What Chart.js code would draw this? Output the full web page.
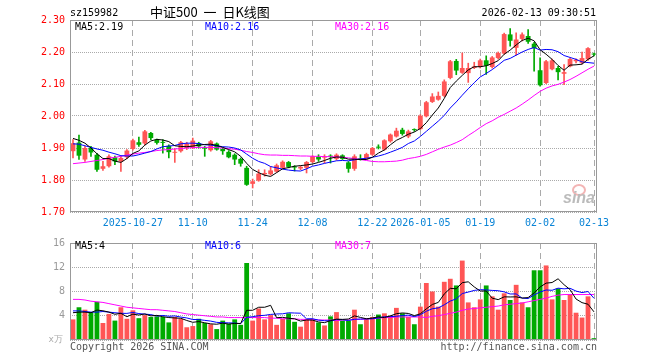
<!DOCTYPE html>
<html>
<head>
<meta charset="utf-8">
<script src="https://cdn.jsdelivr.net/npm/chart.js@4.4.1/dist/chart.umd.min.js"></script>
<style>
  body { margin: 0; background: #fff; }
  #wrap { position: relative; width: 660px; height: 360px; overflow: hidden; background: #fff; }
  canvas { position: absolute; left: 0; }
  .t { position: absolute; font: 10px 'DejaVu Sans Mono', monospace; line-height: 12px; white-space: nowrap; }
</style>
</head>
<body>
<div id="wrap">
  <canvas id="kline" width="660" height="232" style="top:0"></canvas>
  <canvas id="vol" width="660" height="128" style="top:232px"></canvas>

  <div class="t" style="left:70px;top:7px;color:#000">sz159982</div>
  <div class="t" style="left:150px;top:4px;font:13px 'Noto Sans CJK SC';line-height:16px;word-spacing:3px;color:#000">中证500 一 日K线图</div>
  <div class="t" style="right:64px;top:7px;color:#000">2026-02-13 09:30:51</div>

  <div class="t" style="left:75px;top:21px;color:#000">MA5:2.19</div>
  <div class="t" style="left:205px;top:21px;color:#0000ff">MA10:2.16</div>
  <div class="t" style="left:335px;top:21px;color:#ff00ff">MA30:2.16</div>

  <div class="t" style="left:75px;top:240px;color:#000">MA5:4</div>
  <div class="t" style="left:205px;top:240px;color:#0000ff">MA10:6</div>
  <div class="t" style="left:335px;top:240px;color:#ff00ff">MA30:7</div>

  <div class="t" style="right:597px;top:333px;font-size:9px;color:#aaa">x万</div>
  <div class="t" style="left:70px;top:341px;color:#555">Copyright 2026 SINA.COM</div>
  <div class="t" style="right:63px;top:341px;color:#555">http://finance.sina.com.cn</div>

  <div style="position:absolute;left:572px;top:184px;width:10px;height:8px;border:2px solid #f3b5b5;border-radius:50%"></div>
  <div class="t" style="left:563px;top:189px;font:italic bold 16px 'Liberation Sans';line-height:18px;color:#bbb">sina</div>
</div>

<script>
const dates = [
  '2025-10-13','2025-10-14','2025-10-15','2025-10-16','2025-10-17','2025-10-20','2025-10-21','2025-10-22','2025-10-23','2025-10-24',
  '2025-10-27','2025-10-28','2025-10-29','2025-10-30','2025-10-31','2025-11-03','2025-11-04','2025-11-05','2025-11-06','2025-11-07',
  '2025-11-10','2025-11-11','2025-11-12','2025-11-13','2025-11-14','2025-11-17','2025-11-18','2025-11-19','2025-11-20','2025-11-21',
  '2025-11-24','2025-11-25','2025-11-26','2025-11-27','2025-11-28','2025-12-01','2025-12-02','2025-12-03','2025-12-04','2025-12-05',
  '2025-12-08','2025-12-09','2025-12-10','2025-12-11','2025-12-12','2025-12-15','2025-12-16','2025-12-17','2025-12-18','2025-12-19',
  '2025-12-22','2025-12-23','2025-12-24','2025-12-25','2025-12-26','2025-12-29','2025-12-30','2025-12-31','2026-01-05','2026-01-06',
  '2026-01-07','2026-01-08','2026-01-09','2026-01-12','2026-01-13','2026-01-14','2026-01-15','2026-01-16','2026-01-19','2026-01-20',
  '2026-01-21','2026-01-22','2026-01-23','2026-01-26','2026-01-27','2026-01-28','2026-01-29','2026-01-30','2026-02-02','2026-02-03',
  '2026-02-04','2026-02-05','2026-02-06','2026-02-09','2026-02-10','2026-02-11','2026-02-12','2026-02-13'
];

const open = [
  1.890,1.917,1.864,1.900,1.879,1.835,1.843,1.871,1.858,1.871,
  1.897,1.918,1.914,1.947,1.926,1.919,1.907,1.885,1.890,1.900,
  1.900,1.915,1.902,1.893,1.914,1.897,1.888,1.879,1.866,1.838,
  1.788,1.798,1.818,1.818,1.826,1.838,1.856,1.842,1.836,1.838,
  1.856,1.873,1.870,1.875,1.866,1.877,1.855,1.835,1.866,1.866,
  1.879,1.903,1.895,1.921,1.936,1.957,1.936,1.958,1.959,1.999,
  2.044,2.051,2.063,2.119,2.172,2.135,2.134,2.150,2.153,2.174,
  2.153,2.181,2.195,2.255,2.213,2.241,2.250,2.226,2.143,2.103,
  2.146,2.150,2.132,2.155,2.171,2.166,2.177,2.195
];
const high = [
  1.926,1.940,1.905,1.905,1.883,1.858,1.879,1.875,1.874,1.895,
  1.928,1.934,1.955,1.949,1.928,1.926,1.910,1.898,1.921,1.918,
  1.931,1.918,1.905,1.924,1.916,1.900,1.892,1.882,1.869,1.843,
  1.803,1.832,1.832,1.842,1.850,1.860,1.858,1.845,1.844,1.858,
  1.876,1.879,1.879,1.879,1.882,1.879,1.858,1.879,1.879,1.884,
  1.902,1.910,1.926,1.944,1.962,1.962,1.956,1.960,2.004,2.046,
  2.070,2.075,2.113,2.174,2.177,2.197,2.165,2.168,2.178,2.188,
  2.186,2.200,2.259,2.273,2.260,2.260,2.270,2.230,2.182,2.174,
  2.178,2.155,2.161,2.181,2.179,2.200,2.214,2.197
];
const low = [
  1.869,1.864,1.858,1.874,1.827,1.830,1.840,1.848,1.827,1.867,
  1.893,1.905,1.910,1.926,1.912,1.884,1.869,1.855,1.887,1.895,
  1.898,1.900,1.874,1.890,1.893,1.880,1.869,1.848,1.843,1.783,
  1.775,1.796,1.812,1.815,1.824,1.836,1.838,1.828,1.832,1.822,
  1.854,1.858,1.853,1.853,1.862,1.864,1.824,1.830,1.862,1.864,
  1.877,1.897,1.893,1.918,1.934,1.940,1.932,1.952,1.957,1.997,
  2.042,2.049,2.060,2.116,2.129,2.133,2.105,2.148,2.150,2.130,
  2.150,2.178,2.193,2.218,2.190,2.235,2.227,2.140,2.093,2.101,
  2.144,2.113,2.098,2.153,2.166,2.163,2.174,2.188
];
const close = [
  1.915,1.876,1.900,1.886,1.832,1.843,1.874,1.858,1.869,1.892,
  1.924,1.910,1.952,1.931,1.916,1.916,1.887,1.887,1.918,1.913,
  1.923,1.905,1.898,1.921,1.895,1.890,1.871,1.864,1.851,1.785,
  1.796,1.820,1.822,1.830,1.846,1.857,1.841,1.839,1.841,1.856,
  1.874,1.864,1.872,1.873,1.879,1.866,1.835,1.874,1.864,1.881,
  1.900,1.901,1.924,1.942,1.954,1.944,1.952,1.956,2.001,2.043,
  2.061,2.063,2.108,2.171,2.142,2.150,2.150,2.155,2.174,2.157,
  2.183,2.197,2.256,2.235,2.239,2.255,2.232,2.212,2.096,2.171,
  2.174,2.137,2.137,2.178,2.176,2.181,2.212,2.192
];

const ma5 = [
  1.930,1.924,1.915,1.900,1.882,1.867,1.867,1.859,1.855,1.867,
  1.883,1.891,1.909,1.922,1.927,1.925,1.920,1.907,1.905,1.904,
  1.906,1.909,1.911,1.912,1.908,1.902,1.895,1.888,1.874,1.852,
  1.833,1.823,1.815,1.811,1.823,1.835,1.839,1.843,1.845,1.847,
  1.850,1.855,1.861,1.868,1.872,1.871,1.865,1.865,1.864,1.864,
  1.871,1.884,1.894,1.910,1.924,1.933,1.943,1.950,1.961,1.979,
  2.003,2.025,2.055,2.089,2.109,2.127,2.144,2.154,2.154,2.157,
  2.164,2.173,2.193,2.206,2.222,2.236,2.243,2.235,2.207,2.193,
  2.177,2.158,2.143,2.159,2.160,2.162,2.177,2.188
];
const ma10 = [
  1.913,1.912,1.907,1.902,1.897,1.893,1.887,1.882,1.876,1.875,
  1.875,1.879,1.884,1.889,1.897,1.904,1.906,1.908,1.913,1.915,
  1.915,1.914,1.910,1.909,1.907,1.904,1.903,1.900,1.894,1.881,
  1.868,1.858,1.852,1.842,1.838,1.834,1.831,1.829,1.828,1.835,
  1.843,1.847,1.852,1.856,1.860,1.861,1.860,1.863,1.866,1.868,
  1.871,1.875,1.880,1.887,1.894,1.902,1.914,1.922,1.936,1.952,
  1.968,1.984,2.002,2.025,2.044,2.065,2.085,2.104,2.122,2.133,
  2.145,2.159,2.174,2.180,2.190,2.200,2.208,2.214,2.206,2.208,
  2.207,2.201,2.189,2.183,2.177,2.169,2.167,2.165
];
const ma30 = [
  1.851,1.853,1.855,1.858,1.861,1.864,1.868,1.871,1.874,1.878,
  1.881,1.884,1.886,1.889,1.892,1.894,1.895,1.897,1.898,1.900,
  1.901,1.902,1.902,1.902,1.901,1.900,1.898,1.896,1.893,1.889,
  1.886,1.882,1.879,1.878,1.878,1.877,1.877,1.876,1.875,1.875,
  1.874,1.874,1.873,1.873,1.872,1.871,1.869,1.867,1.864,1.861,
  1.858,1.857,1.857,1.858,1.859,1.862,1.867,1.870,1.874,1.880,
  1.888,1.896,1.903,1.909,1.917,1.926,1.939,1.951,1.964,1.976,
  1.985,1.996,2.005,2.015,2.025,2.037,2.050,2.064,2.077,2.087,
  2.094,2.099,2.106,2.114,2.124,2.135,2.146,2.156
];

// volume, 万手
const volume = [
  3.4,5.4,5.0,4.6,6.3,2.8,4.3,3.2,5.4,3.5,
  4.9,3.6,4.1,3.8,3.9,3.8,2.9,3.8,3.5,2.1,
  2.3,3.5,2.8,2.6,1.8,3.2,2.7,3.4,2.5,12.7,
  3.2,5.2,3.4,4.1,2.5,3.5,4.4,3.0,2.2,3.4,
  3.4,2.9,2.4,3.9,4.6,3.2,3.2,5.0,2.6,3.5,
  3.8,4.2,4.4,4.0,5.3,4.4,3.8,2.6,5.5,9.4,
  8.0,5.5,9.6,10.1,9.0,13.1,6.2,5.4,6.7,9.0,
  7.2,5.0,7.7,6.6,9.1,6.2,5.4,11.5,11.5,12.3,
  6.7,8.5,6.6,7.5,4.5,3.7,7.2,0.3
];
const volMa5 = [
  4.5,4.6,4.6,4.5,4.94,4.82,4.60,4.24,4.40,3.84,
  4.26,4.12,4.30,3.98,4.06,3.84,3.70,3.64,3.58,3.22,
  2.92,3.04,2.84,2.66,2.60,2.78,2.62,2.74,2.72,4.90,
  4.90,5.40,5.40,5.72,3.68,3.74,3.58,3.50,3.12,3.30,
  3.28,2.98,2.86,3.20,3.44,3.40,3.46,3.98,3.72,3.50,
  3.62,3.82,3.70,3.98,4.34,4.46,4.38,4.02,4.32,5.14,
  5.86,6.20,7.60,8.52,8.44,9.46,9.60,8.76,8.08,8.08,
  6.90,6.66,7.12,7.10,7.12,6.92,7.00,7.76,8.74,9.38,
  9.48,10.10,9.12,8.32,6.76,6.16,5.90,4.64
];
const volMa10 = [
  4.8,4.8,4.7,4.6,4.6,4.7,4.6,4.5,4.4,4.39,
  4.54,4.36,4.27,4.19,3.95,4.05,3.91,3.97,3.78,3.64,
  3.38,3.37,3.24,3.12,2.91,2.85,2.83,2.79,2.69,3.75,
  3.84,4.01,4.07,4.22,4.29,4.32,4.49,4.45,4.42,3.49,
  3.51,3.28,3.18,3.16,3.37,3.34,3.22,3.42,3.46,3.47,
  3.51,3.64,3.84,3.85,3.92,4.04,4.10,3.86,4.15,4.74,
  5.16,5.29,5.81,6.42,6.79,7.66,7.90,8.18,8.30,8.26,
  8.18,8.13,7.94,7.59,7.60,6.91,6.83,7.44,7.92,8.25,
  8.20,8.55,8.44,8.53,8.07,7.82,8.00,6.88
];
const volMa30 = [
  6.7,6.7,6.6,6.4,6.3,6.2,6.0,5.8,5.6,5.4,
  5.3,5.2,5.1,5.0,5.0,4.9,4.8,4.7,4.5,4.3,
  4.2,4.1,4.0,3.9,3.8,3.8,3.7,3.7,3.7,3.7,
  3.7,3.7,3.7,3.6,3.6,3.5,3.5,3.5,3.4,3.4,
  3.4,3.3,3.3,3.3,3.2,3.3,3.3,3.4,3.4,3.5,
  3.5,3.6,3.7,3.7,3.8,3.8,3.8,3.8,3.8,3.7,
  3.9,4.0,4.2,4.4,4.6,4.9,5.1,5.2,5.3,5.4,
  5.5,5.6,5.8,5.9,6.0,6.1,6.3,6.5,6.7,6.9,
  7.2,7.4,7.5,7.5,7.5,7.5,7.5,7.5
];

const tickDates = ['2025-10-27','2025-11-10','2025-11-24','2025-12-08','2025-12-22','2026-01-05','2026-01-19','2026-02-02','2026-02-13'];
const tickText  = ['2025-10-27','11-10','11-24','12-08','12-22','2026-01-05','01-19','02-02','02-13'];
const priceTicks = [1.70, 2.30, 0.10];   // min, max, step
const volTicks = [0, 16, 4];

const UP = '#ff5555', DOWN = '#00aa00';
const colors = close.map((c, i) => c >= open[i] ? UP : DOWN);
const tickAt = {};
tickDates.forEach((d, k) => { tickAt[dates.indexOf(d)] = tickText[k]; });

Chart.defaults.font.family = "'DejaVu Sans Mono', monospace";
Chart.defaults.font.size = 10;
Chart.defaults.animation = false;

const frame = {
  id: 'frame',
  afterDraw(chart) {
    const { ctx, chartArea: a } = chart;
    ctx.save();
    ctx.strokeStyle = '#999';
    ctx.lineWidth = 1;
    ctx.strokeRect(a.left + 0.5, a.top + 0.5, a.right - a.left - 1, a.bottom - a.top - 1);
    ctx.restore();
  }
};

function xAxis(showLabels) {
  return {
    type: 'category',
    offset: true,
    grid: {
      offset: false,
      drawTicks: false,
      color: c => (tickAt[c.index] !== undefined ? '#aaa' : 'rgba(0,0,0,0)')
    },
    border: { display: false, dash: [6, 4] },
    ticks: {
      display: showLabels,
      autoSkip: false,
      maxRotation: 0,
      minRotation: 0,
      padding: 5,
      color: '#0a84d6',
      callback: (v, i) => tickAt[i] || ''
    },
    afterFit: s => { s.height = 20; }
  };
}

function line(data, color) {
  return { type: 'line', data, borderColor: color, borderWidth: 1, pointRadius: 0, tension: 0, order: 0 };
}

new Chart(document.getElementById('kline'), {
  type: 'bar',
  data: {
    labels: dates,
    datasets: [
      line(ma5, '#000000'),
      line(ma10, '#0000ff'),
      line(ma30, '#ff00ff'),
      { data: open.map((o, i) => [o, close[i]]), backgroundColor: colors, barPercentage: 0.8, categoryPercentage: 1, minBarLength: 1, order: 1 },
      { data: low.map((l, i) => [l, high[i]]), backgroundColor: colors, barThickness: 1, categoryPercentage: 1, order: 2 }
    ]
  },
  options: {
    responsive: false,
    layout: { padding: { top: 20, right: 63, left: 0, bottom: 0 } },
    datasets: { bar: { grouped: false } },
    plugins: { legend: { display: false }, tooltip: { enabled: false } },
    scales: {
      x: xAxis(true),
      y: {
        min: priceTicks[0], max: priceTicks[1],
        grid: { drawTicks: false, color: '#aaa' },
        border: { display: false, dash: [1, 1] },
        ticks: { stepSize: priceTicks[2], padding: 5, color: '#ff0000', callback: v => v.toFixed(2) },
        afterFit: s => { s.width = 70; }
      }
    }
  },
  plugins: [frame]
});

new Chart(document.getElementById('vol'), {
  type: 'bar',
  data: {
    labels: dates,
    datasets: [
      line(volMa5, '#000000'),
      line(volMa10, '#0000ff'),
      line(volMa30, '#ff00ff'),
      { data: volume, backgroundColor: colors, barPercentage: 0.8, categoryPercentage: 1, order: 1 }
    ]
  },
  options: {
    responsive: false,
    layout: { padding: { top: 9, right: 63, left: 0, bottom: 0 } },
    plugins: { legend: { display: false }, tooltip: { enabled: false } },
    scales: {
      x: xAxis(false),
      y: {
        min: volTicks[0], max: volTicks[1],
        grid: { drawTicks: false, color: '#aaa' },
        border: { display: false, dash: [1, 1] },
        ticks: { stepSize: volTicks[2], padding: 5, color: '#999', callback: v => (v === 0 ? '' : v) },
        afterFit: s => { s.width = 70; }
      }
    }
  },
  plugins: [frame]
});
</script>
</body>
</html>
